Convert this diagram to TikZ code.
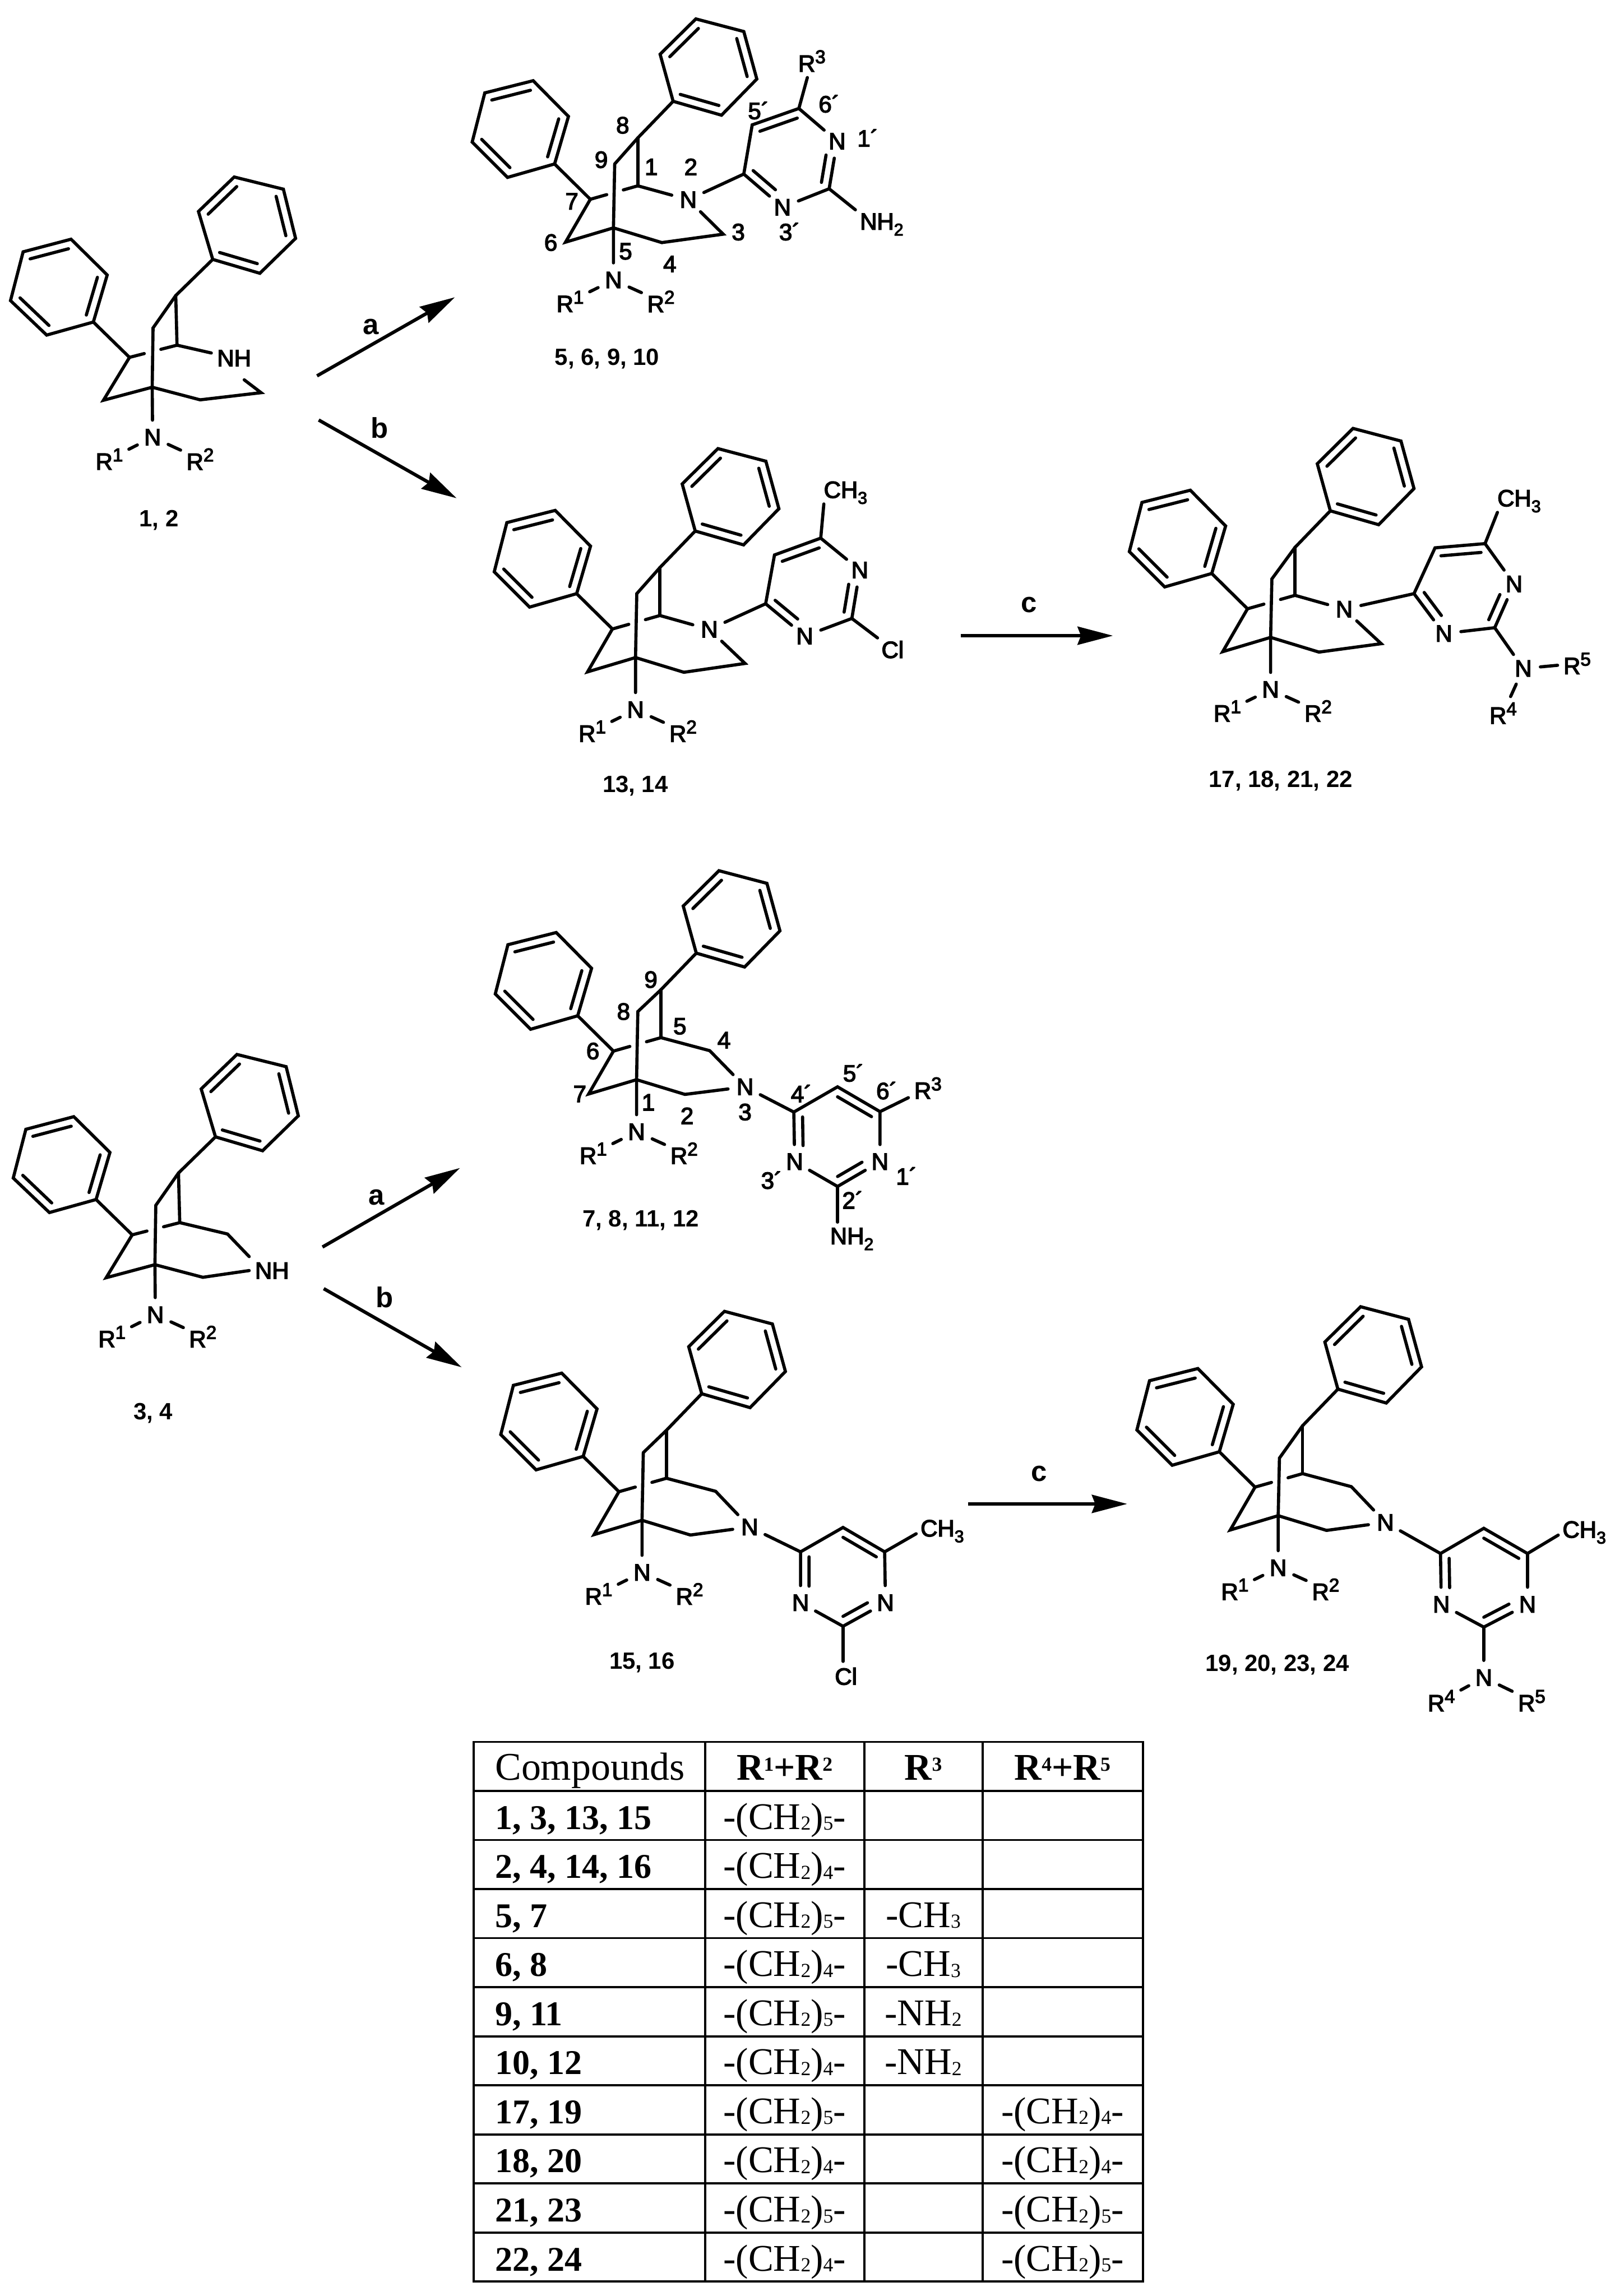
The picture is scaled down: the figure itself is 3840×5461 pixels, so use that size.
\documentclass[tikz,border=0pt]{standalone}
\usepackage{fontspec}
\setmainfont{Liberation Sans}
\newfontfamily\atomfont[FakeBold=3.5]{Liberation Sans}
\newfontfamily\tablefont{Liberation Serif}
\usetikzlibrary{arrows.meta,calc}

% Phenyl ring: name, then the six corners, double bonds on 1-2, 3-4, 5-6
\newcommand{\phenyl}[7]{%
  \coordinate (#1 v1) at (#2);
  \coordinate (#1 v2) at (#3);
  \coordinate (#1 v3) at (#4);
  \coordinate (#1 v4) at (#5);
  \coordinate (#1 v5) at (#6);
  \coordinate (#1 v6) at (#7);
  \coordinate (#1 mid) at ($(#1 v1)!.5!(#1 v4)$);
  \draw (#1 v1) -- (#1 v2) -- (#1 v3) -- (#1 v4) -- (#1 v5) -- (#1 v6) -- cycle;
  \draw ($(#1 v1)!.2!(#1 mid)$) -- ($(#1 v2)!.2!(#1 mid)$);
  \draw ($(#1 v3)!.2!(#1 mid)$) -- ($(#1 v4)!.2!(#1 mid)$);
  \draw ($(#1 v5)!.2!(#1 mid)$) -- ($(#1 v6)!.2!(#1 mid)$);
}

% Pyrimidine ring: name, then c4, c5, c6, n1, c2, n3
\newcommand{\pyrimidine}[7]{%
  \coordinate (#1 c4) at (#2);
  \coordinate (#1 c5) at (#3);
  \coordinate (#1 c6) at (#4);
  \node[ring atom] (#1 n1) at (#5) {N};
  \coordinate (#1 c2) at (#6);
  \node[ring atom] (#1 n3) at (#7) {N};
  \coordinate (#1 mid) at ($(#1 c5)!.5!(#1 c2)$);
  \draw (#1 n3) -- (#1 c4) -- (#1 c5) -- (#1 c6) -- (#1 n1) -- (#1 c2) -- (#1 n3);
  \draw ($(#1 c5)!.2!(#1 mid)$) -- ($(#1 c6)!.2!(#1 mid)$);
  \draw ($(#1 c4)!.2!(#1 mid)$) -- ($($(#1 c4)!.2!(#1 mid)$)!.72!($(#1 n3)!.2!(#1 mid)$)$);
  \draw ($(#1 c2)!.2!(#1 mid)$) -- ($($(#1 c2)!.2!(#1 mid)$)!.72!($(#1 n1)!.2!(#1 mid)$)$);
}

% Small figures on the atom labels and in the table
\newcommand{\atomsup}[1]{\raisebox{.2cm}{\fontsize{12.6}{14}\selectfont #1}}
\newcommand{\atomsub}[1]{\raisebox{-.14cm}{\fontsize{11.5}{13}\selectfont #1}}
\newcommand{\cellsup}[1]{\raisebox{.22cm}{\fontsize{13.5}{15}\selectfont #1}}
\newcommand{\cellsub}[1]{\raisebox{-.02cm}{\fontsize{13.5}{15}\selectfont #1}}
\newcommand{\chain}[1]{-(CH\cellsub{2})\cellsub{#1}-}

\begin{document}
\begin{tikzpicture}[x=.01cm,y=-.01cm,line width=.075cm,line cap=round,line join=miter]

  \tikzstyle{every node}=[font=\atomfont\fontsize{15.9}{18}\selectfont]

  \tikzset{ring atom/.style={circle,inner sep=0pt,minimum size=.74cm},
    r group/.style={inner sep=0pt,outer sep=.14cm},
    atom group/.style={inner sep=0pt,outer sep=0pt},
    locant/.style={inner sep=0pt},
    compound/.style={inner sep=0pt,font=\rmfamily\fontsize{15.9}{18}\selectfont\bfseries},
    reagent/.style={inner sep=0pt,font=\rmfamily\fontsize{19.3}{22}\selectfont\bfseries},
    reaction/.style={line width=.08cm,line cap=butt,-{Stealth[length=.84cm,width=.43cm,inset=.08cm]}},
    table line/.style={line width=.05cm,line cap=rect},
    cell/.style={inner sep=0pt,anchor=base,font=\tablefont\fontsize{25.5}{30}\selectfont},
    bold cell/.style={cell,font=\tablefont\fontsize{25.5}{30}\selectfont\bfseries},
    row label/.style={cell,anchor=base west,font=\tablefont\fontsize{23.5}{30}\selectfont\bfseries}}

  % Flat cage of the two starting amines
  \tikzset{pics/widecage/.style={code={
    \phenyl{upper}{472,503}{557,421}{674,450}{703,567}{618,650}{506,617}
    \phenyl{left}{55,599}{169,569}{255,654}{222,766}{111,797}{25,715}
    \coordinate (top) at (418,703);
    \coordinate (bridge) at (364,780);
    \coordinate (foot) at (362,921);
    \coordinate (head) at (421,821);
    \coordinate (seven) at (308,850);
    \coordinate (low) at (246,952);
    \coordinate (arm) at (476,951);
    \node[ring atom] (amine) at (363,1040) {N};
    \node[r group] (r1) at (260,1092) {R\atomsup{1}};
    \node[r group] (r2) at (476,1092) {R\atomsup{2}};
    \draw (upper v6) -- (top) -- (bridge) -- (foot) -- (amine);
    \draw (top) -- (head);
    \draw (left v4) -- (seven) -- (low) -- (foot) -- (arm);
    \draw (seven) -- ($(seven)!.31!(head)$);
    \draw ($(seven)!.66!(head)$) -- (head);
    \draw (amine) -- (r1);
    \draw (amine) -- (r2);
  }}}

  % Cage of all the substituted products, the value moves the bridge corner
  \tikzset{pics/cage/.style={code={
    \phenyl{upper}{1570,129}{1655,45}{1769,75}{1800,188}{1716,274}{1601,241}
    \phenyl{left}{1153,221}{1268,192}{1352,277}{1319,390}{1207,422}{1123,338}
    \coordinate (top) at (1517,328);
    \coordinate (bridge) at (1462,{390+#1});
    \coordinate (foot) at (1459,542);
    \coordinate (head) at (1517,442);
    \coordinate (seven) at (1404,474);
    \coordinate (low) at (1345,576);
    \coordinate (arm) at (1574,577);
    \node[ring atom] (amine) at (1459,666) {N};
    \node[r group] (r1) at (1356,717) {R\atomsup{1}};
    \node[r group] (r2) at (1572,717) {R\atomsup{2}};
    \draw (upper v6) -- (top) -- (bridge) -- (foot) -- (amine);
    \draw (top) -- (head);
    \draw (left v4) -- (seven) -- (low) -- (foot) -- (arm);
    \draw (seven) -- ($(seven)!.345!(head)$);
    \draw ($(seven)!.695!(head)$) -- (head);
    \draw (amine) -- (r1);
    \draw (amine) -- (r2);
  }}}

  % Page
  \useasboundingbox (0,0) rectangle (3840,5461);

  % Compounds 1, 2
  \pic (m1) at (0,0) {widecage};
  \node[r group] (m1 NH) at (557,852) {NH};
  \coordinate (m1 c3) at (621,934);
  \draw (m1head) -- (m1 NH);
  \draw[shorten >=.3cm] (m1arm) -- (m1 c3) -- (m1 NH.south);
  \node[compound] (m1 name) at (378,1238) {1, 2};

  % Compounds 3, 4
  \pic (m3) at (6.5,2087) {widecage};
  \node[r group] (m3 NH) at (647,3022) {NH};
  \coordinate (m3 c4) at (541,2935);
  \draw (m3head) -- (m3 c4) -- (m3 NH.north west);
  \draw (m3arm) -- (m3 NH.west);
  \node[compound] (m3 name) at (364,3361) {3, 4};

  % Compounds 5, 6, 9, 10
  \pic (m5) at (0,0) {cage=0};
  \node[ring atom] (m5 N2) at (1637,475) {N};
  \coordinate (m5 c3) at (1720,557);
  \draw (m5head) -- (m5 N2) -- (m5 c3) -- (m5arm);
  \pyrimidine{m5}{1769,414}{1789,297}{1900,258}{1991,336}{1972,449}{1861,493}
  \draw (m5 N2) -- (m5 c4);
  \node[r group] (m5 R3) at (1931,145) {R\atomsup{3}};
  \draw (m5 c6) -- (m5 R3);
  \node[atom group] (m5 NH2) at (2097,534) {NH\atomsub{2}};
  \draw[shorten >=.14cm] (m5 c2) -- (m5 NH2.north west);
  \foreach \txt/\px/\py [count=\i] in {8/1481/298,9/1430/380,1/1549/397,2/1643/397,7/1360/479,
      6/1310/577,5/1488/598,4/1593/628,3/1756/552,5´/1804/263,6´/1972/247,1´/2064/328,3´/1878/551}
    \node[locant] (m5 loc\i) at (\px,\py) {\txt};
  \node[compound] (m5 name) at (1444,854) {5, 6, 9, 10};

  % Compounds 13, 14
  \pic (m13) at (52.5,1022) {cage=0};
  \node[ring atom] (m13 N2) at (1687,1497) {N};
  \coordinate (m13 c3) at (1772,1578);
  \draw (m13head) -- (m13 N2) -- (m13 c3) -- (m13arm);
  \pyrimidine{m13}{1821,1436}{1842,1320}{1952,1280}{2045,1356}{2026,1471}{1914,1513}
  \draw (m13 N2) -- (m13 c4);
  \node[atom group] (m13 CH3) at (2011,1172) {CH\atomsub{3}};
  \draw (m13 c6) -- (m13 CH3.south west);
  \node[atom group] (m13 Cl) at (2123,1545) {Cl};
  \draw[shorten >=.12cm] (m13 c2) -- (m13 Cl.north west);
  \node[compound] (m13 name) at (1511,1870) {13, 14};

  % Compounds 17, 18, 21, 22
  \pic (m17) at (1563,974) {cage=13};
  \node[ring atom] (m17 N2) at (3197,1449) {N};
  \coordinate (m17 c3) at (3285,1531);
  \draw (m17head) -- (m17 N2) -- (m17 c3) -- (m17arm);
  \pyrimidine{m17}{3363,1412}{3413,1303}{3532,1293}{3601,1389}{3555,1493}{3434,1507}
  \draw (m17 N2) -- (m17 c4);
  \node[atom group] (m17 CH3) at (3613,1192) {CH\atomsub{3}};
  \draw (m17 c6) -- (m17 CH3.south west);
  \node[ring atom] (m17 N) at (3623,1590) {N};
  \node[r group] (m17 R5) at (3751,1578) {R\atomsup{5}};
  \node[r group] (m17 R4) at (3575,1696) {R\atomsup{4}};
  \draw (m17 c2) -- (m17 N) -- (m17 R5);
  \draw (m17 N) -- (m17 R4);
  \node[compound] (m17 name) at (3046,1858) {17, 18, 21, 22};

  % Compounds 7, 8, 11, 12
  \pic (m7) at (55,2026) {cage=-10};
  \node[ring atom] (m7 N3) at (1772,2585) {N};
  \coordinate (m7 c4p) at (1688,2499);
  \draw (m7head) -- (m7 c4p) -- (m7 N3) -- (m7arm);
  \pyrimidine{m7}{1888,2645}{1992,2585}{2093,2644}{2093,2763}{1992,2822}{1890,2763}
  \draw (m7 N3) -- (m7 c4);
  \node[r group] (m7 R3) at (2207,2588) {R\atomsup{3}};
  \draw (m7 c6) -- (m7 R3);
  \node[atom group] (m7 NH2) at (2026,2947) {NH\atomsub{2}};
  \draw[shorten >=.14cm] (m7 c2) -- (m7 c2 |- m7 NH2.north);
  \foreach \txt/\px/\py [count=\i] in {9/1548/2330,8/1483/2406,5/1617/2441,4/1722/2474,6/1410/2500,
      7/1379/2602,1/1542/2622,2/1634/2654,3/1772/2645,5´/2030/2552,4´/1906/2601,6´/2109/2594,
      3´/1835/2807,1´/2156/2797,2´/2028/2854}
    \node[locant] (m7 loc\i) at (\px,\py) {\txt};
  \node[compound] (m7 name) at (1524,2902) {7, 8, 11, 12};

  % Compounds 15, 16
  \pic (m15) at (68,3074) {cage=-9};
  \node[ring atom] (m15 N3) at (1783,3632) {N};
  \coordinate (m15 c4p) at (1702,3547);
  \draw (m15head) -- (m15 c4p) -- (m15 N3) -- (m15arm);
  \pyrimidine{m15}{1904,3691}{2005,3633}{2104,3691}{2106,3812}{2005,3868}{1904,3812}
  \draw (m15 N3) -- (m15 c4);
  \node[atom group] (m15 CH3) at (2241,3642) {CH\atomsub{3}};
  \draw[shorten >=.12cm] (m15 c6) -- (m15 CH3.west);
  \node[atom group] (m15 Cl) at (2012,3987) {Cl};
  \draw[shorten >=.15cm] (m15 c2) -- (m15 c2 |- m15 Cl.north);
  \node[compound] (m15 name) at (1527,3954) {15, 16};

  % Compounds 19, 20, 23, 24
  \pic (m19) at (1581,3063) {cage=15};
  \node[ring atom] (m19 N3) at (3295,3621) {N};
  \coordinate (m19 c4p) at (3214,3536);
  \draw (m19head) -- (m19 c4p) -- (m19 N3) -- (m19arm);
  \pyrimidine{m19}{3426,3695}{3529,3635}{3633,3695}{3633,3816}{3529,3870}{3428,3816}
  \draw (m19 N3) -- (m19 c4);
  \node[atom group] (m19 CH3) at (3768,3645) {CH\atomsub{3}};
  \draw[shorten >=.12cm] (m19 c6) -- (m19 CH3.west);
  \node[ring atom] (m19 N) at (3529,3990) {N};
  \node[r group] (m19 R4) at (3428,4045) {R\atomsup{4}};
  \node[r group] (m19 R5) at (3643,4045) {R\atomsup{5}};
  \draw (m19 c2) -- (m19 N) -- (m19 R4);
  \draw (m19 N) -- (m19 R5);
  \node[compound] (m19 name) at (3038,3960) {19, 20, 23, 24};

  % Reactions
  \coordinate (a1 start) at (754,894);
  \coordinate (a1 end) at (1082,707);
  \draw[reaction] (a1 start) -- (a1 end);
  \node[reagent] (a1) at (882,777) {a};
  \coordinate (b1 start) at (758,999);
  \coordinate (b1 end) at (1086,1185);
  \draw[reaction] (b1 start) -- (b1 end);
  \node[reagent] (b1) at (903,1018) {b};
  \coordinate (c1 start) at (2285,1512);
  \coordinate (c1 end) at (2647,1512);
  \draw[reaction] (c1 start) -- (c1 end);
  \node[reagent] (c1) at (2448,1438) {c};
  \coordinate (a2 start) at (767,2966);
  \coordinate (a2 end) at (1094,2778);
  \draw[reaction] (a2 start) -- (a2 end);
  \node[reagent] (a2) at (895,2848) {a};
  \coordinate (b2 start) at (770,3065);
  \coordinate (b2 end) at (1098,3252);
  \draw[reaction] (b2 start) -- (b2 end);
  \node[reagent] (b2) at (915,3085) {b};
  \coordinate (c2 start) at (2303,3577);
  \coordinate (c2 end) at (2681,3577);
  \draw[reaction] (c2 start) -- (c2 end);
  \node[reagent] (c2) at (2471,3505) {c};

  % Table lines
  \foreach \colx in {1127,1677,2056,2337,2718}
    \draw[table line] (\colx,4143) -- (\colx,5427);
  \foreach \rowi in {0,...,11}
    \draw[table line] (1127,{4143+116.7*\rowi}) -- (2718,{4143+116.7*\rowi});

  % Table head
  \node[cell,anchor=base west,font=\tablefont\fontsize{26.5}{30}\selectfont] (head cmpd) at (1174,4234) {Compounds};
  \node[bold cell] (head r12) at (1866,4234) {R\cellsup{1}+R\cellsup{2}};
  \node[bold cell] (head r3) at (2196,4234) {R\cellsup{3}};
  \node[bold cell] (head r45) at (2527,4234) {R\cellsup{4}+R\cellsup{5}};

  % Table rows
  \foreach \i/\txt/\ra in {1/{1, 3, 13, 15}/5,2/{2, 4, 14, 16}/4,3/{5, 7}/5,4/{6, 8}/4,5/{9, 11}/5,
      6/{10, 12}/4,7/{17, 19}/5,8/{18, 20}/4,9/{21, 23}/5,10/{22, 24}/4}
    {
      \node[row label] (row\i) at (1174,{4234+116.7*\i}) {\txt};
      \node[cell] (row\i r12) at (1866,{4234+116.7*\i}) {\chain{\ra}};
    }
  \foreach \i/\txt in {3/CH\cellsub{3},4/CH\cellsub{3},5/NH\cellsub{2},6/NH\cellsub{2}}
    \node[cell] (row\i r3) at (2196,{4234+116.7*\i}) {-\txt};
  \foreach \i/\rb in {7/4,8/4,9/5,10/5}
    \node[cell] (row\i r45) at (2527,{4234+116.7*\i}) {\chain{\rb}};

\end{tikzpicture}
\end{document}
